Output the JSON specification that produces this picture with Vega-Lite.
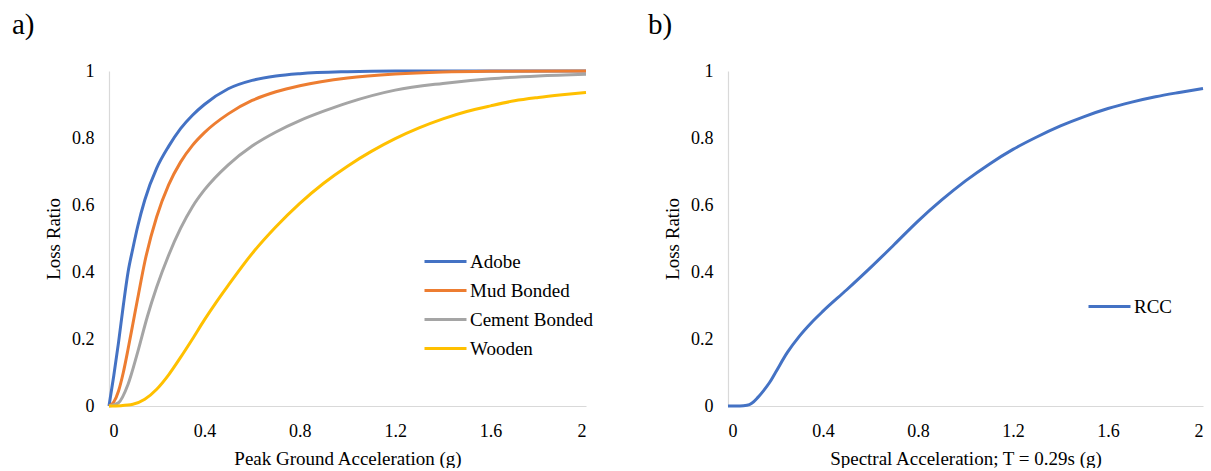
{
  "$schema": "https://vega.github.io/schema/vega-lite/v6.json",
  "background": "white",
  "padding": {"left": 12, "top": 11, "right": 0, "bottom": 0},
  "spacing": 55,
  "datasets": {
    "a": [
      {"type": "Adobe", "x": 0, "y": 0},
      {"type": "Adobe", "x": 0.02, "y": 0.09},
      {"type": "Adobe", "x": 0.04, "y": 0.19},
      {"type": "Adobe", "x": 0.06, "y": 0.3},
      {"type": "Adobe", "x": 0.08, "y": 0.4},
      {"type": "Adobe", "x": 0.1, "y": 0.47},
      {"type": "Adobe", "x": 0.12, "y": 0.535},
      {"type": "Adobe", "x": 0.15, "y": 0.615},
      {"type": "Adobe", "x": 0.2, "y": 0.71},
      {"type": "Adobe", "x": 0.25, "y": 0.775},
      {"type": "Adobe", "x": 0.3, "y": 0.828},
      {"type": "Adobe", "x": 0.35, "y": 0.868},
      {"type": "Adobe", "x": 0.4, "y": 0.9},
      {"type": "Adobe", "x": 0.5, "y": 0.947},
      {"type": "Adobe", "x": 0.6, "y": 0.972},
      {"type": "Adobe", "x": 0.7, "y": 0.985},
      {"type": "Adobe", "x": 0.8, "y": 0.992},
      {"type": "Adobe", "x": 1.0, "y": 0.998},
      {"type": "Adobe", "x": 1.2, "y": 1.0},
      {"type": "Adobe", "x": 2.0, "y": 1.0},
      {"type": "Mud Bonded", "x": 0, "y": 0},
      {"type": "Mud Bonded", "x": 0.02, "y": 0.012},
      {"type": "Mud Bonded", "x": 0.04, "y": 0.045},
      {"type": "Mud Bonded", "x": 0.06, "y": 0.1},
      {"type": "Mud Bonded", "x": 0.08, "y": 0.17},
      {"type": "Mud Bonded", "x": 0.1, "y": 0.245},
      {"type": "Mud Bonded", "x": 0.12, "y": 0.32},
      {"type": "Mud Bonded", "x": 0.15, "y": 0.43},
      {"type": "Mud Bonded", "x": 0.2, "y": 0.565},
      {"type": "Mud Bonded", "x": 0.25, "y": 0.66},
      {"type": "Mud Bonded", "x": 0.3, "y": 0.728},
      {"type": "Mud Bonded", "x": 0.35, "y": 0.778},
      {"type": "Mud Bonded", "x": 0.4, "y": 0.816},
      {"type": "Mud Bonded", "x": 0.5, "y": 0.872},
      {"type": "Mud Bonded", "x": 0.6, "y": 0.912},
      {"type": "Mud Bonded", "x": 0.7, "y": 0.938},
      {"type": "Mud Bonded", "x": 0.8, "y": 0.956},
      {"type": "Mud Bonded", "x": 1.0, "y": 0.979},
      {"type": "Mud Bonded", "x": 1.2, "y": 0.991},
      {"type": "Mud Bonded", "x": 1.4, "y": 0.997},
      {"type": "Mud Bonded", "x": 1.6, "y": 0.999},
      {"type": "Mud Bonded", "x": 2.0, "y": 1.0},
      {"type": "Cement Bonded", "x": 0, "y": 0},
      {"type": "Cement Bonded", "x": 0.04, "y": 0.01},
      {"type": "Cement Bonded", "x": 0.08, "y": 0.065},
      {"type": "Cement Bonded", "x": 0.12, "y": 0.16},
      {"type": "Cement Bonded", "x": 0.16, "y": 0.265},
      {"type": "Cement Bonded", "x": 0.2, "y": 0.355},
      {"type": "Cement Bonded", "x": 0.25, "y": 0.45},
      {"type": "Cement Bonded", "x": 0.3, "y": 0.53},
      {"type": "Cement Bonded", "x": 0.35, "y": 0.595},
      {"type": "Cement Bonded", "x": 0.4, "y": 0.645},
      {"type": "Cement Bonded", "x": 0.5, "y": 0.72},
      {"type": "Cement Bonded", "x": 0.6, "y": 0.776},
      {"type": "Cement Bonded", "x": 0.7, "y": 0.818},
      {"type": "Cement Bonded", "x": 0.8, "y": 0.852},
      {"type": "Cement Bonded", "x": 0.9, "y": 0.88},
      {"type": "Cement Bonded", "x": 1.0, "y": 0.905},
      {"type": "Cement Bonded", "x": 1.2, "y": 0.943},
      {"type": "Cement Bonded", "x": 1.4, "y": 0.963},
      {"type": "Cement Bonded", "x": 1.6, "y": 0.977},
      {"type": "Cement Bonded", "x": 1.8, "y": 0.985},
      {"type": "Cement Bonded", "x": 2.0, "y": 0.99},
      {"type": "Wooden", "x": 0, "y": 0},
      {"type": "Wooden", "x": 0.05, "y": 0.001},
      {"type": "Wooden", "x": 0.1, "y": 0.005},
      {"type": "Wooden", "x": 0.15, "y": 0.02},
      {"type": "Wooden", "x": 0.2, "y": 0.05},
      {"type": "Wooden", "x": 0.25, "y": 0.093},
      {"type": "Wooden", "x": 0.3, "y": 0.145},
      {"type": "Wooden", "x": 0.35, "y": 0.2},
      {"type": "Wooden", "x": 0.4, "y": 0.257},
      {"type": "Wooden", "x": 0.45, "y": 0.31},
      {"type": "Wooden", "x": 0.5, "y": 0.36},
      {"type": "Wooden", "x": 0.6, "y": 0.455},
      {"type": "Wooden", "x": 0.7, "y": 0.535},
      {"type": "Wooden", "x": 0.8, "y": 0.605},
      {"type": "Wooden", "x": 0.9, "y": 0.665},
      {"type": "Wooden", "x": 1.0, "y": 0.716},
      {"type": "Wooden", "x": 1.1, "y": 0.76},
      {"type": "Wooden", "x": 1.2, "y": 0.798},
      {"type": "Wooden", "x": 1.3, "y": 0.83},
      {"type": "Wooden", "x": 1.4, "y": 0.857},
      {"type": "Wooden", "x": 1.5, "y": 0.879},
      {"type": "Wooden", "x": 1.6, "y": 0.896},
      {"type": "Wooden", "x": 1.7, "y": 0.911},
      {"type": "Wooden", "x": 1.8, "y": 0.921},
      {"type": "Wooden", "x": 1.9, "y": 0.929},
      {"type": "Wooden", "x": 2.0, "y": 0.936}
    ],
    "b": [
      {"type": "RCC", "x": 0, "y": 0},
      {"type": "RCC", "x": 0.05, "y": 0},
      {"type": "RCC", "x": 0.08, "y": 0.002},
      {"type": "RCC", "x": 0.1, "y": 0.008},
      {"type": "RCC", "x": 0.125, "y": 0.025},
      {"type": "RCC", "x": 0.15, "y": 0.046},
      {"type": "RCC", "x": 0.175, "y": 0.07},
      {"type": "RCC", "x": 0.2, "y": 0.1},
      {"type": "RCC", "x": 0.25, "y": 0.16},
      {"type": "RCC", "x": 0.3, "y": 0.208},
      {"type": "RCC", "x": 0.35, "y": 0.248},
      {"type": "RCC", "x": 0.4, "y": 0.283},
      {"type": "RCC", "x": 0.5, "y": 0.347},
      {"type": "RCC", "x": 0.6, "y": 0.413},
      {"type": "RCC", "x": 0.7, "y": 0.482},
      {"type": "RCC", "x": 0.8, "y": 0.552},
      {"type": "RCC", "x": 0.9, "y": 0.615},
      {"type": "RCC", "x": 1.0, "y": 0.672},
      {"type": "RCC", "x": 1.1, "y": 0.722},
      {"type": "RCC", "x": 1.2, "y": 0.766},
      {"type": "RCC", "x": 1.3, "y": 0.803},
      {"type": "RCC", "x": 1.4, "y": 0.836},
      {"type": "RCC", "x": 1.5, "y": 0.864},
      {"type": "RCC", "x": 1.6, "y": 0.888},
      {"type": "RCC", "x": 1.7, "y": 0.907},
      {"type": "RCC", "x": 1.8, "y": 0.923},
      {"type": "RCC", "x": 1.9, "y": 0.936},
      {"type": "RCC", "x": 2.0, "y": 0.948}
    ]
  },
  "config": {
    "font": "Times New Roman, Liberation Serif, DejaVu Serif, serif",
    "view": {"stroke": null},
    "axis": {
      "grid": false,
      "ticks": false,
      "tickSize": 0,
      "domainColor": "#D9D9D9",
      "domainWidth": 1.2,
      "labelFontSize": 18,
      "labelColor": "#000000",
      "labelFont": "Times New Roman, Liberation Serif, DejaVu Serif, serif",
      "titleFont": "Times New Roman, Liberation Serif, DejaVu Serif, serif",
      "titleFontSize": 19,
      "titleFontWeight": "normal",
      "titleColor": "#000000"
    },
    "axisX": {"labelPadding": 16, "titlePadding": 9},
    "axisY": {"labelPadding": 15, "titlePadding": 8},
    "legend": {
      "labelFont": "Times New Roman, Liberation Serif, DejaVu Serif, serif",
      "labelFontSize": 19,
      "labelColor": "#000000",
      "symbolType": "stroke",
      "symbolSize": 1764,
      "symbolStrokeWidth": 3,
      "labelOffset": 2,
      "clipHeight": 29,
      "rowPadding": 0,
      "padding": 0
    },
    "title": {"font": "Times New Roman, Liberation Serif, DejaVu Serif, serif", "fontSize": 29, "fontWeight": "normal", "color": "#000000", "anchor": "start", "frame": "group"}
  },
  "resolve": {"scale": {"color": "independent"}},
  "hconcat": [
    {
      "width": 477,
      "height": 335,
      "title": {"text": "a)", "dx": -97, "offset": 22},
      "data": {"name": "a"},
      "mark": {"type": "line", "interpolate": "monotone", "strokeWidth": 3},
      "encoding": {
        "x": {"field": "x", "type": "quantitative", "scale": {"domain": [0, 2], "nice": false}, "axis": {"title": "Peak Ground Acceleration (g)", "values": [0, 0.4, 0.8, 1.2, 1.6, 2], "format": "~g"}},
        "y": {"field": "y", "type": "quantitative", "scale": {"domain": [0, 1], "nice": false}, "axis": {"title": "Loss Ratio", "values": [0, 0.2, 0.4, 0.6, 0.8, 1], "format": "~g"}},
        "color": {
          "field": "type", "type": "nominal",
          "scale": {"domain": ["Adobe", "Mud Bonded", "Cement Bonded", "Wooden"], "range": ["#4472C4", "#ED7D31", "#A5A5A5", "#FFC000"]},
          "legend": {"title": null, "orient": "none", "legendX": 314, "legendY": 176}
        }
      }
    },
    {
      "width": 475,
      "height": 335,
      "title": {"text": "b)", "dx": -80, "offset": 22},
      "data": {"name": "b"},
      "mark": {"type": "line", "interpolate": "monotone", "strokeWidth": 3},
      "encoding": {
        "x": {"field": "x", "type": "quantitative", "scale": {"domain": [0, 2], "nice": false}, "axis": {"title": "Spectral Acceleration; T = 0.29s (g)", "values": [0, 0.4, 0.8, 1.2, 1.6, 2], "format": "~g"}},
        "y": {"field": "y", "type": "quantitative", "scale": {"domain": [0, 1], "nice": false}, "axis": {"title": "Loss Ratio", "values": [0, 0.2, 0.4, 0.6, 0.8, 1], "format": "~g"}},
        "color": {
          "field": "type", "type": "nominal",
          "scale": {"domain": ["RCC"], "range": ["#4472C4"]},
          "legend": {"title": null, "orient": "none", "legendX": 359, "legendY": 221}
        }
      }
    }
  ]
}
